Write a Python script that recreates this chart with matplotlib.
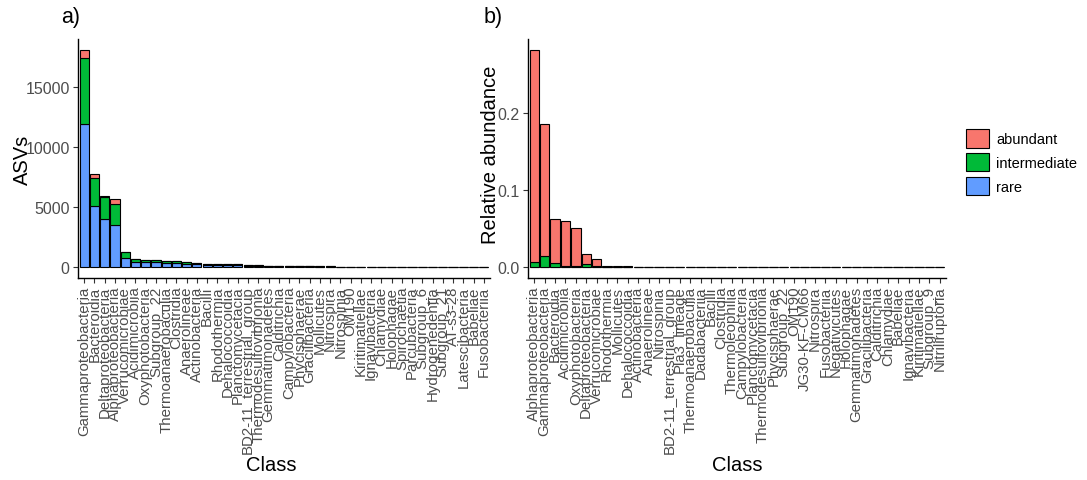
import matplotlib
matplotlib.use("Agg")
import matplotlib.pyplot as plt
from matplotlib.patches import Patch
import numpy as np

plt.rcParams['font.family'] = ['Liberation Sans', 'DejaVu Sans']

# ---------------- Panel a: number of ASVs per class ----------------
classes_a = ["Gammaproteobacteria", "Bacteroidia", "Deltaproteobacteria", "Alphaproteobacteria",
             "Verrucomicrobiae", "Acidimicrobiia", "Oxyphotobacteria", "Subgroup_22",
             "Thermoanaerobaculia", "Clostridia", "Anaerolineae", "Actinobacteria", "Bacilli",
             "Rhodothermia", "Dehalococcoidia", "Planctomycetacia", "BD2-11_terrestrial_group",
             "Thermodesulfovibrionia", "Gemmatimonadetes", "Calditrichia", "Campylobacteria",
             "Phycisphaerae", "Gracilibacteria", "Mollicutes", "Nitrospira", "Nitrospinia",
             "OM190", "Kiritimatiellae", "Ignavibacteria", "Chlamydiae", "Holophagae",
             "Spirochaetia", "Parcubacteria", "Subgroup_6", "Hydrogenedentia", "Subgroup_21",
             "AT-s3-28", "Latescibacteria", "Babeliae", "Fusobacteriia"]
rare_a = [11900, 5115, 4000, 3500, 780, 445, 390, 390, 330, 305, 278, 250, 195, 180, 160, 155,
          120, 100, 90, 80, 70, 60, 55, 50, 45, 40, 35, 32, 30, 28, 25, 22, 20, 18, 16, 14, 12,
          10, 8, 6]
inter_a = [5500, 2275, 1850, 1725, 450, 250, 220, 195, 170, 195, 167, 110, 85, 70, 60, 65, 50,
           40, 35, 30, 25, 20, 18, 15, 12, 10, 8, 7, 6, 5, 4, 3, 3, 2, 2, 2, 1, 1, 1, 1]
abund_a = [670, 390, 40, 415, 20, 5, 3, 3, 2, 2, 2, 1, 1, 1, 1, 1, 1, 0, 0, 0, 0, 0, 0, 0, 0,
           0, 0, 0, 0, 0, 0, 0, 0, 0, 0, 0, 0, 0, 0, 0]

# ---------------- Panel b: relative abundance per class ----------------
classes_b = ["Alphaproteobacteria", "Gammaproteobacteria", "Bacteroidia", "Acidimicrobiia",
             "Oxyphotobacteria", "Deltaproteobacteria", "Verrucomicrobiae", "Rhodothermia",
             "Mollicutes", "Dehalococcoidia", "Actinobacteria", "Anaerolineae", "Nitrospinia",
             "BD2-11_terrestrial_group", "Pla3_lineage", "Thermoanaerobaculia", "Dadabacteriia",
             "Bacilli", "Clostridia", "Thermoleophilia", "Campylobacteria", "Planctomycetacia",
             "Thermodesulfovibrionia", "Phycisphaerae", "Subgroup_22", "OM190", "JG30-KF-CM66",
             "Nitrospira", "Fusobacteriia", "Negativicutes", "Holophagae", "Gemmatimonadetes",
             "Gracilibacteria", "Calditrichia", "Chlamydiae", "Babeliae", "Ignavibacteria",
             "Kiritimatiellae", "Subgroup_9", "Nitriliruptoria"]
rare_b = [0.0003, 0.0003, 0.0002, 0.0002, 0.0002, 0.0002, 0.0001, 0.0001, 0.0001, 0.00005,
          0.00005, 0.00005, 0.00004, 0.00004, 0.00003, 0.00003, 0.00003, 0.00002, 0.00002,
          0.00002, 0.00002, 0.00001, 0.00001, 0.00001, 0.00001, 0.00001, 0.00001, 0.00001,
          0.00001, 0.00001, 0.00001, 0.00001, 0.00001, 0.00001, 0.00001, 0.00001, 0.00001,
          0.00001, 0.00001, 0.00001]
inter_b = [0.0067, 0.0140, 0.0055, 0.0010, 0.0010, 0.0042, 0.0010, 0.0004, 0.0003, 0.0002,
           0.0002, 0.0002, 0.0001, 0.0001, 0.0001, 0.0001, 0.0001, 0.0001, 0.0001, 0.0001,
           0.00005, 0.00005, 0.00005, 0.00005, 0.00005, 0.00004, 0.00004, 0.00004, 0.00003,
           0.00003, 0.00003, 0.00003, 0.00002, 0.00002, 0.00002, 0.00002, 0.00002, 0.00001,
           0.00001, 0.00001]
abund_b = [0.2755, 0.1717, 0.0569, 0.0588, 0.0498, 0.0126, 0.0089, 0.0015, 0.0011, 0.0006,
           0.0005, 0.0004, 0.0003, 0.0003, 0.0002, 0.0002, 0.0002, 0.0002, 0.0001, 0.0001,
           0.0001, 0.0001, 0.0001, 0.0001, 0.0001, 0.0001, 0.0001, 0.0001, 0.0001, 0.0001,
           0.0001, 0.0001, 0.0001, 0.0001, 0.0001, 0.0001, 0.0001, 0.0001, 0.0001, 0.0001]

cat_labels = ["abundant", "intermediate", "rare"]
cat_colors = ["#F8766D", "#00BA38", "#619CFF"]

W, H = 1087, 481
fig = plt.figure(figsize=(W / 100, H / 100), dpi=100)

def px_ax(l, r, t, b):
    return fig.add_axes([l / W, 1 - b / H, (r - l) / W, (b - t) / H])

tick_gray = "#4D4D4D"

def style(ax, classes):
    n = len(classes)
    ax.set_xlim(-0.6, n - 0.4)
    ax.set_xticks(np.arange(n))
    ax.set_xticklabels(classes, rotation=90, fontsize=10.8, color=tick_gray)
    ax.tick_params(axis='y', labelsize=11.5, labelcolor=tick_gray, length=3.5,
                   color="#333333", width=0.8, pad=2.5)
    ax.tick_params(axis='x', length=3.5, color="#333333", width=0.8, pad=2)
    for s in ["top", "right"]:
        ax.spines[s].set_visible(False)
    for s in ["left", "bottom"]:
        ax.spines[s].set_linewidth(1.0)
        ax.spines[s].set_color("black")

def stacked(ax, rare, inter, abund):
    x = np.arange(len(rare))
    rare = np.array(rare); inter = np.array(inter); abund = np.array(abund)
    kw = dict(width=0.9, edgecolor="black", linewidth=0.8)
    ax.bar(x, rare, color=cat_colors[2], **kw)
    ax.bar(x, inter, bottom=rare, color=cat_colors[1], **kw)
    ax.bar(x, abund, bottom=rare + inter, color=cat_colors[0], **kw)
    tot = (rare + inter + abund).max()
    ax.set_ylim(-0.05 * tot, 1.05 * tot)

# Panel a
ax1 = px_ax(78, 490, 40, 279)
stacked(ax1, rare_a, inter_a, abund_a)
style(ax1, classes_a)
ax1.set_yticks([0, 5000, 10000, 15000])
ax1.set_yticklabels(["0", "5000", "10000", "15000"])
ax1.set_ylabel("ASVs", fontsize=14.5)
ax1.yaxis.set_label_coords(-0.112, 0.5)
ax1.set_xlabel("Class", fontsize=14.5)
ax1.xaxis.set_label_coords(0.47, -0.78)
ax1.xaxis.label.set_va("center")

# Panel b
ax2 = px_ax(528, 946, 40, 279)
stacked(ax2, rare_b, inter_b, abund_b)
style(ax2, classes_b)
ax2.set_yticks([0.0, 0.1, 0.2])
ax2.set_yticklabels(["0.0", "0.1", "0.2"])
ax2.set_ylabel("Relative abundance", fontsize=14.5)
ax2.yaxis.set_label_coords(-0.067, 0.52)
ax2.set_xlabel("Class", fontsize=14.5)
ax2.xaxis.set_label_coords(0.5, -0.78)
ax2.xaxis.label.set_va("center")

# Panel tags
fig.text(61 / W, 1 - 18 / H, "a)", fontsize=15.5, va="center", ha="left")
fig.text(484 / W, 1 - 18 / H, "b)", fontsize=15.5, va="center", ha="left")

# Legend
handles = [Patch(facecolor=c, edgecolor="black", linewidth=0.8) for c in cat_colors]
fig.legend(handles, cat_labels, loc="upper left", bbox_to_anchor=(960 / W, 1 - 124 / H),
           frameon=False, fontsize=10.5, handlelength=1.6, handleheight=1.6,
           labelspacing=0.35, handletextpad=0.5, borderaxespad=0)

fig.savefig("out.png", dpi=100, facecolor="white")
